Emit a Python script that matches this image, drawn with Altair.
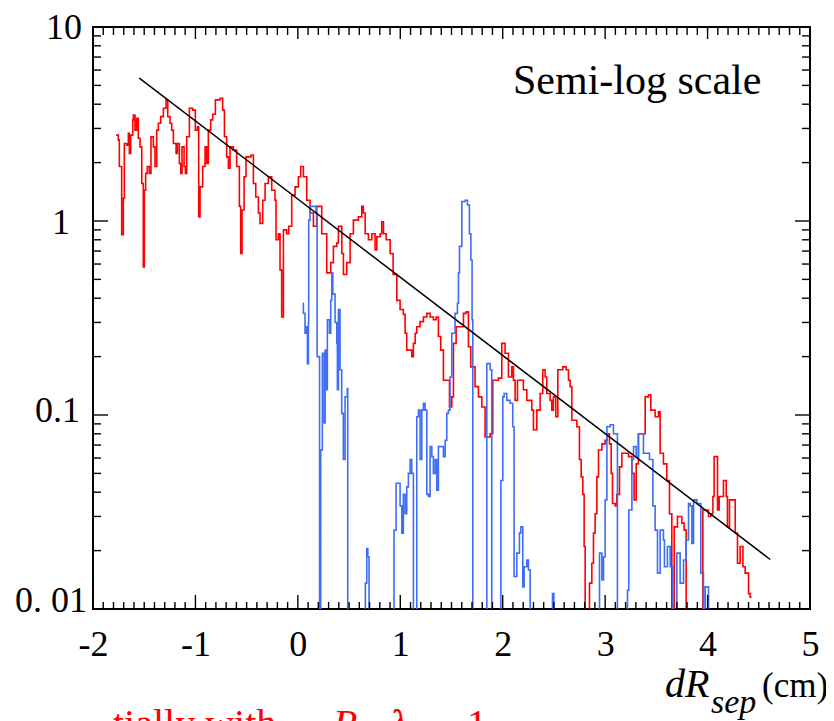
import altair as alt
import pandas as pd

# ---------------- data ----------------
red_x = [-1.775, -1.753, -1.743, -1.720, -1.704, -1.694, -1.671, -1.655, -1.645, -1.632,
         -1.612, -1.606, -1.590, -1.574, -1.558, -1.541, -1.524, -1.509, -1.499, -1.486,
         -1.470, -1.450, -1.434, -1.411, -1.395, -1.378, -1.362, -1.339, -1.313, -1.287,
         -1.270, -1.248, -1.232, -1.215, -1.189, -1.176, -1.157, -1.143, -1.131, -1.111,
         -1.098, -1.085, -1.059, -1.027, -1.001, -0.981, -0.968, -0.955, -0.929, -0.906,
         -0.890, -0.874, -0.851, -0.831, -0.805, -0.760, -0.734, -0.717, -0.695, -0.678,
         -0.662, -0.629, -0.597, -0.571, -0.558, -0.545, -0.525, -0.506, -0.457, -0.434,
         -0.411, -0.385, -0.369, -0.343, -0.320, -0.288, -0.255, -0.223, -0.213, -0.190,
         -0.174, -0.158, -0.141, -0.109, -0.089, -0.060, -0.027, 0.005, 0.028, 0.054,
         0.087, 0.119, 0.152, 0.184, 0.233, 0.282, 0.321, 0.347, 0.380, 0.396,
         0.429, 0.445, 0.477, 0.510, 0.542, 0.591, 0.624, 0.640, 0.657, 0.689,
         0.722, 0.754, 0.771, 0.803, 0.819, 0.836, 0.862, 0.901, 0.930, 0.966,
         0.998, 1.030, 1.047, 1.063, 1.112, 1.128, 1.145, 1.161, 1.193, 1.226,
         1.259, 1.291, 1.323, 1.350, 1.372, 1.395, 1.421, 1.480, 1.503, 1.519,
         1.545, 1.617, 1.643, 1.665, 1.688, 1.730, 1.763, 1.796, 1.828, 1.877,
         1.903, 1.958, 1.991, 2.023, 2.056, 2.089, 2.105, 2.121, 2.144, 2.202,
         2.235, 2.284, 2.300, 2.333, 2.365, 2.391, 2.414, 2.430, 2.463, 2.479,
         2.495, 2.518, 2.538, 2.587, 2.619, 2.642, 2.658, 2.675, 2.724, 2.749,
         2.766, 2.782, 2.795, 2.805, 2.847, 2.870, 2.886, 2.902, 2.919, 2.935,
         2.968, 3.000, 3.017, 3.042, 3.059, 3.072, 3.098, 3.114, 3.140, 3.163,
         3.228, 3.261, 3.283, 3.303, 3.325, 3.391, 3.423, 3.446, 3.488, 3.521,
         3.537, 3.569, 3.602, 3.628, 3.651, 3.674, 3.706, 3.749, 3.771, 3.791,
         3.954, 4.009, 4.032, 4.052, 4.064, 4.097, 4.113, 4.155, 4.182, 4.194,
         4.214, 4.270, 4.292, 4.318, 4.345, 4.367, 4.400, 4.416, 4.430]

red_y = [2.77, 2.62, 1.91, 0.85, 1.31, 2.51, 2.46, 2.83, 2.23, 2.77,
         3.32, 3.52, 2.94, 3.38, 2.67, 2.41, 1.56, 0.58, 1.44, 1.76,
         1.91, 1.76, 2.72, 2.41, 1.91, 2.94, 3.19, 3.45, 3.81, 4.21,
         3.45, 3.19, 2.94, 2.51, 2.23, 2.51, 1.98, 1.76, 2.41, 1.91,
         1.76, 2.72, 3.81, 3.73, 2.94, 3.06, 1.05, 1.50, 1.91, 2.41,
         1.98, 2.94, 3.32, 3.55, 4.21, 4.29, 3.73, 2.72, 2.14, 1.87,
         2.41, 2.32, 1.91, 1.19, 0.68, 1.14, 1.69, 2.14, 2.19, 1.56,
         1.33, 1.10, 0.97, 1.28, 1.56, 1.69, 1.44, 1.28, 0.80, 0.86,
         0.56, 0.32, 0.90, 0.86, 0.94, 1.36, 1.50, 1.69, 1.91, 1.69,
         1.28, 1.10, 0.94, 1.19, 0.86, 0.54, 0.61, 0.74, 0.77, 0.94,
         0.68, 0.53, 0.61, 0.86, 1.01, 1.05, 1.19, 1.10, 0.86, 0.80,
         0.86, 0.71, 0.83, 0.86, 0.99, 0.86, 0.80, 0.68, 0.53, 0.39,
         0.35, 0.33, 0.264, 0.216, 0.20, 0.234, 0.264, 0.285, 0.303, 0.32,
         0.334, 0.32, 0.31, 0.32, 0.254, 0.216, 0.151, 0.110, 0.124, 0.234,
         0.285, 0.334, 0.34, 0.225, 0.177, 0.140, 0.124, 0.110, 0.077, 0.080,
         0.151, 0.155, 0.234, 0.208, 0.157, 0.177, 0.151, 0.119, 0.151, 0.135,
         0.119, 0.106, 0.084, 0.106, 0.129, 0.171, 0.157, 0.129, 0.119, 0.106,
         0.124, 0.098, 0.171, 0.177, 0.171, 0.151, 0.140, 0.094, 0.087, 0.059,
         0.048, 0.039, 0.021, 0.005, 0.0136, 0.0172, 0.0246, 0.031, 0.048, 0.066,
         0.071, 0.074, 0.080, 0.071, 0.050, 0.035, 0.034, 0.039, 0.054, 0.0635,
         0.061, 0.050, 0.0365, 0.056, 0.080, 0.124, 0.127, 0.106, 0.098, 0.104,
         0.0635, 0.056, 0.046, 0.031, 0.005, 0.0265, 0.030, 0.0277, 0.0255, 0.005,
         0.0324, 0.030, 0.031, 0.038, 0.061, 0.0324, 0.038, 0.046, 0.038, 0.0265,
         0.0365, 0.0246, 0.0172, 0.021, 0.0165, 0.0153, 0.012, 0.0115, 0.0115]

blue_x = [0.048, 0.054, 0.070, 0.080, 0.093, 0.103, 0.106, 0.119, 0.178, 0.188,
          0.212, 0.223, 0.239, 0.256, 0.266, 0.275, 0.288, 0.308, 0.321, 0.331,
          0.341, 0.363, 0.380, 0.386, 0.396, 0.412, 0.428, 0.444, 0.461, 0.483,
          0.487, 0.659, 0.673, 0.683, 0.695, 0.939, 0.959, 0.998, 1.015, 1.030,
          1.047, 1.063, 1.079, 1.096, 1.112, 1.128, 1.161, 1.177, 1.193, 1.210,
          1.226, 1.242, 1.259, 1.275, 1.291, 1.308, 1.323, 1.340, 1.356, 1.372,
          1.421, 1.438, 1.454, 1.470, 1.486, 1.503, 1.535, 1.558, 1.568, 1.578,
          1.601, 1.633, 1.656, 1.675, 1.689, 1.701, 1.708, 1.845, 1.877, 1.893,
          1.982, 2.001, 2.014, 2.040, 2.072, 2.098, 2.111, 2.138, 2.163, 2.177,
          2.196, 2.209, 2.235, 2.251, 2.268, 2.486, 2.499, 2.945, 2.968, 2.984,
          3.000, 3.017, 3.049, 3.081, 3.120, 3.218, 3.231, 3.261, 3.277, 3.303,
          3.325, 3.374, 3.433, 3.466, 3.488, 3.511, 3.537, 3.569, 3.579, 3.608,
          3.635, 3.661, 3.700, 3.732, 3.765, 3.791, 3.814, 3.830, 3.847, 3.863,
          3.896, 3.934, 3.960, 3.977, 4.009]

blue_y = [0.377, 0.334, 0.264, 0.285, 0.184, 0.30, 1.01, 1.19, 1.10, 0.20,
          0.005, 0.066, 0.208, 0.091, 0.216, 0.135, 0.31, 0.264, 0.39, 0.54,
          0.42, 0.30, 0.234, 0.135, 0.35, 0.171, 0.102, 0.059, 0.124, 0.137,
          0.005, 0.0136, 0.0205, 0.0186, 0.005, 0.0255, 0.0445, 0.034, 0.0246, 0.039,
          0.031, 0.0426, 0.050, 0.059, 0.050, 0.005, 0.098, 0.106, 0.059, 0.106,
          0.115, 0.106, 0.039, 0.038, 0.0687, 0.061, 0.050, 0.059, 0.041, 0.0687,
          0.061, 0.074, 0.102, 0.106, 0.157, 0.264, 0.334, 0.377, 0.54, 0.74,
          1.26, 1.28, 1.21, 0.86, 0.63, 0.31, 0.005, 0.184, 0.171, 0.005,
          0.046, 0.124, 0.129, 0.119, 0.115, 0.087, 0.0147, 0.0194, 0.0246, 0.0265,
          0.013, 0.0165, 0.0179, 0.0159, 0.005, 0.012, 0.005, 0.0194, 0.0141, 0.0186,
          0.0365, 0.087, 0.089, 0.080, 0.005, 0.0125, 0.0324, 0.059, 0.0687, 0.061,
          0.080, 0.0635, 0.059, 0.034, 0.0255, 0.0153, 0.0255, 0.0227, 0.0165, 0.021,
          0.0165, 0.005, 0.0194, 0.0136, 0.0179, 0.0227, 0.035, 0.034, 0.0218, 0.0365,
          0.035, 0.0153, 0.005, 0.013, 0.005]

fit_x = [-1.548, 4.611]
fit_y = [5.45, 0.0180]

x_major = [-2, -1, 0, 1, 2, 3, 4, 5]
x_minor = [round(-2 + i * 0.1, 1) for i in range(71) if i % 10 != 0]
y_major = [0.01, 0.1, 1, 10]
y_minor = [round(m * d, 4) for d in (0.01, 0.1, 1) for m in range(2, 10)]
y_labels = ["0. 01", "0.1", "1", "10"]

# ---------------- layout ----------------
W, H = 717, 582
FONT = "'Liberation Serif', 'Times New Roman', Times, 'DejaVu Serif', serif"

xs = alt.Scale(domain=[-2, 5], nice=False, zero=False)
ys = alt.Scale(type="log", domain=[0.01, 10], nice=False)
x_axis = alt.Axis(values=x_major, ticks=False, tickSize=0, domain=False, grid=False,
                  labelFont=FONT, labelFontSize=36, labelColor="black",
                  labelPadding=18, labelFlush=False, labelOverlap=False,
                  labelBound=False, labelExpr="'' + datum.value", title=None)


def X(f):
    return alt.X(f"{f}:Q", scale=xs, axis=x_axis)


def Y(f):
    return alt.Y(f"{f}:Q", scale=ys, axis=None)


red = alt.Chart(pd.DataFrame({"x": red_x, "y": red_y})).mark_line(
    color="#ff0000", strokeWidth=1.6, interpolate="step-after", clip=True
).encode(x=X("x"), y=Y("y"))

blue = alt.Chart(pd.DataFrame({"x": blue_x, "y": blue_y})).mark_line(
    color="#3f6ef5", strokeWidth=1.6, interpolate="step-after", clip=True
).encode(x=X("x"), y=Y("y"))

fit = alt.Chart(pd.DataFrame({"x": fit_x, "y": fit_y})).mark_line(
    color="black", strokeWidth=1.5, clip=True
).encode(x=X("x"), y=Y("y"))


def xticks(vals, ya, yb):
    return alt.Chart(pd.DataFrame({"v": vals})).mark_rule(
        color="black", strokeWidth=1.4
    ).encode(x=X("v"), y=alt.value(ya), y2=alt.value(yb))


def yticks(vals, xa, xb):
    return alt.Chart(pd.DataFrame({"v": vals})).mark_rule(
        color="black", strokeWidth=1.4
    ).encode(y=Y("v"), x=alt.value(xa), x2=alt.value(xb))


ticks = [
    xticks(x_major, H, H - 14), xticks(x_major, 0, 12),
    xticks(x_minor, H, H - 7), xticks(x_minor, 0, 8),
    yticks(y_major, 0, 15), yticks(y_major, W, W - 15),
    yticks(y_minor, 0, 8), yticks(y_minor, W, W - 8),
]

# y tick labels (right edge / vertical nudge per label as in the reference)
ylab_dx = [-6, -13, -23, -11]
ylab_dy = [-8, -4, 2, 1]
ylabels = []
for v, lab, dx, dy in zip(y_major, y_labels, ylab_dx, ylab_dy):
    ylabels.append(
        alt.Chart(pd.DataFrame({"v": [v], "t": [lab]})).mark_text(
            font=FONT, fontSize=36, color="black", align="right",
            baseline="middle", dy=dy
        ).encode(y=Y("v"), x=alt.value(dx), text="t:N")
    )


def label(txt, x, y, size, color="black", style="normal", weight="normal"):
    return alt.Chart(pd.DataFrame({"t": [txt]})).mark_text(
        font=FONT, fontSize=size, color=color, fontStyle=style,
        fontWeight=weight, align="left", baseline="alphabetic"
    ).encode(text="t:N", x=alt.value(x), y=alt.value(y))


texts = [
    label("Semi-log scale", 420, 67, 42),
    label("dR", 572, 670, 40, style="italic"),
    label("sep", 618, 686, 34, style="italic"),
    label("(cm)", 669, 670, 35),
    label("tially with", 20, 710, 40, color="#ff0000"),
    label("R", 240, 710, 40, color="#ff0000", style="italic"),
    label("λ", 297, 710, 40, color="#ff0000", style="italic", weight="bold"),
    label("1", 374, 710, 40, color="#ff0000"),
]

chart = alt.layer(red, blue, fit, *ticks, *ylabels, *texts).properties(
    width=W, height=H,
    padding={"left": 85, "top": 19, "right": 16, "bottom": 112},
    autosize=alt.AutoSizeParams(type="none"),
    background="white",
).configure_view(stroke="black", strokeWidth=2)

chart.save("out.html", embed_options={"renderer": "svg", "actions": False})
